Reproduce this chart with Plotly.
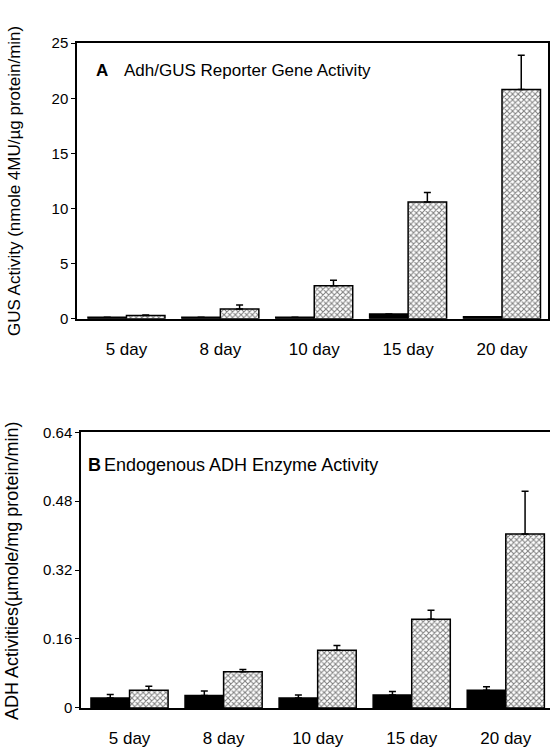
import plotly.graph_objects as go

days = ["5 day", "8 day", "10 day", "15 day", "20 day"]

# Panel A: GUS reporter activity (nmole 4MU/ug protein/min)
gus_black = [0.15, 0.15, 0.15, 0.45, 0.2]
gus_black_err = [0, 0, 0, 0, 0]
gus_hatched = [0.3, 0.9, 3.0, 10.6, 20.8]
gus_hatched_err = [0.05, 0.35, 0.5, 0.85, 3.1]
gus_ticks = [0, 5, 10, 15, 20, 25]

# Panel B: Endogenous ADH activity (umole/mg protein/min)
adh_black = [0.023, 0.029, 0.023, 0.030, 0.041]
adh_black_err = [0.008, 0.010, 0.007, 0.008, 0.008]
adh_hatched = [0.041, 0.084, 0.134, 0.206, 0.404]
adh_hatched_err = [0.009, 0.005, 0.011, 0.021, 0.099]
adh_ticks = [0, 0.16, 0.32, 0.48, 0.64]
adh_ticktext = ["0", "0.16", "0.32", "0.48", "0.64"]

W, H = 550, 755
FONT = "Liberation Sans, Arial, sans-serif"

def px_x(p):
    return min(1.0, p / W)

def px_y(p):
    return 1 - p / H

hatch = dict(shape="x", size=4, solidity=0.45, fgcolor="black", bgcolor="white")
edge = dict(color="black", width=1.5)

def err(vals):
    return dict(type="data", array=vals, arrayminus=[0] * len(vals), symmetric=False,
                color="black", thickness=1.5, width=3.5, visible=True)

fig = go.Figure()
fig.add_trace(go.Bar(x=days, y=gus_black, error_y=err(gus_black_err),
                     marker=dict(color="black", line=edge), xaxis="x", yaxis="y"))
fig.add_trace(go.Bar(x=days, y=gus_hatched, error_y=err(gus_hatched_err),
                     marker=dict(color="white", pattern=hatch, line=edge), xaxis="x", yaxis="y"))
fig.add_trace(go.Bar(x=days, y=adh_black, error_y=err(adh_black_err),
                     marker=dict(color="black", line=edge), xaxis="x2", yaxis="y2"))
fig.add_trace(go.Bar(x=days, y=adh_hatched, error_y=err(adh_hatched_err),
                     marker=dict(color="white", pattern=hatch, line=edge), xaxis="x2", yaxis="y2"))

xcommon = dict(showgrid=False, zeroline=False, showline=True, linecolor="black", linewidth=1.5,
               mirror=True, ticks="", ticklabelstandoff=14,
               tickfont=dict(family=FONT, size=17, color="black"))
ycommon = dict(showgrid=False, zeroline=False, showline=True, linecolor="black", linewidth=1.5,
               ticks="outside", ticklen=4, tickwidth=1.2, tickcolor="black",
               tickfont=dict(family=FONT, size=15, color="black"))

fig.update_layout(
    width=W, height=H,
    margin=dict(l=0, r=0, t=0, b=0),
    paper_bgcolor="white", plot_bgcolor="white",
    barmode="group", bargap=0.18, bargroupgap=0,
    showlegend=False,
    xaxis=dict(domain=[px_x(77), px_x(548)], anchor="y", range=[-0.527, 4.49], **xcommon),
    yaxis=dict(domain=[px_y(317), px_y(35)], anchor="x", range=[0, 25],
               tickvals=gus_ticks, **ycommon, mirror=True),
    xaxis2=dict(domain=[px_x(81), px_x(551)], anchor="y2", range=[-0.516, 4.47], **xcommon),
    yaxis2=dict(domain=[px_y(715), px_y(433)], anchor="x2", range=[0, 0.64],
                tickvals=adh_ticks, ticktext=adh_ticktext, **ycommon),
)

ann_font = dict(family=FONT, size=17, color="black")
annotations = [
    dict(text="<b>A</b>", x=px_x(94), y=px_y(63), xanchor="left", yanchor="middle", font=ann_font),
    dict(text="Adh/GUS Reporter Gene Activity", x=px_x(122), y=px_y(63), xanchor="left",
         yanchor="middle", font=ann_font),
    dict(text="<b>B</b>", x=px_x(86), y=px_y(466), xanchor="left", yanchor="middle",
         font=dict(family=FONT, size=18, color="black")),
    dict(text="Endogenous ADH Enzyme Activity", x=px_x(102), y=px_y(466), xanchor="left",
         yanchor="middle", font=dict(family=FONT, size=18, color="black")),
    dict(text="GUS Activity (nmole 4MU/µg protein/min)", x=px_x(14), y=px_y(176),
         xanchor="center", yanchor="middle", textangle=-90, font=ann_font),
    dict(text="ADH Activities(µmole/mg protein/min)", x=px_x(12), y=px_y(575),
         xanchor="center", yanchor="middle", textangle=-90, font=dict(family=FONT, size=18, color="black")),
]
for a in annotations:
    a.update(xref="paper", yref="paper", showarrow=False)
fig.update_layout(annotations=annotations)

fig.write_html("out.html", config={"displayModeBar": False},
               post_script="document.body.style.margin='0';document.body.style.overflow='hidden';")
